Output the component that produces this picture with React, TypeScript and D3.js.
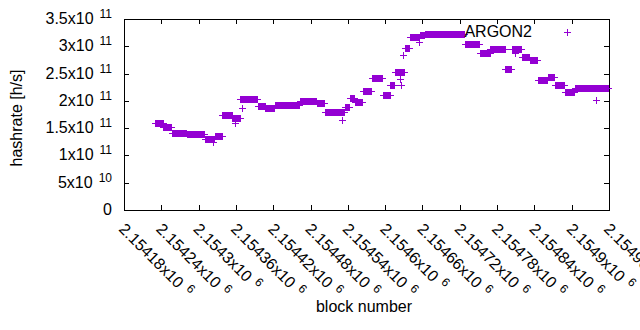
import React from "react";
import * as d3 from "d3";

// Runs of blocks with a (read-off) constant hashrate estimate
const segStart = [2154230, 2154243, 2154257, 2154281, 2154310, 2154326, 2154338, 2154354, 2154367, 2154395, 2154407, 2154423, 2154447, 2154463, 2154490, 2154503, 2154535, 2154543, 2154551, 2154564, 2154579, 2154596, 2154608, 2154616, 2154632, 2154640, 2154656, 2154664, 2154728, 2154752, 2154769, 2154793, 2154804, 2154820, 2154833, 2154846, 2154862, 2154873, 2154889, 2154905];
const segEnd = [2154242, 2154256, 2154280, 2154309, 2154325, 2154337, 2154353, 2154366, 2154394, 2154406, 2154422, 2154446, 2154462, 2154489, 2154502, 2154534, 2154542, 2154550, 2154563, 2154578, 2154595, 2154607, 2154615, 2154631, 2154639, 2154655, 2154663, 2154727, 2154751, 2154768, 2154792, 2154803, 2154819, 2154832, 2154845, 2154861, 2154872, 2154888, 2154904, 2154958];
const segValue = [1.59e11, 1.52e11, 1.42e11, 1.385e11, 1.3e11, 1.35e11, 1.74e11, 1.68e11, 2.03e11, 1.91e11, 1.87e11, 1.93e11, 1.92e11, 1.99e11, 1.96e11, 1.79e11, 1.88e11, 2.06e11, 1.97e11, 2.18e11, 2.41e11, 2.1e11, 2.29e11, 2.52e11, 2.96e11, 3.17e11, 3.2e11, 3.23e11, 3.04e11, 2.88e11, 2.95e11, 2.59e11, 2.95e11, 2.8e11, 2.75e11, 2.39e11, 2.43e11, 2.29e11, 2.17e11, 2.24e11];

// Isolated points
const outBlock = [2154323, 2154358, 2154370, 2154530, 2154624, 2154625, 2154629, 2154654, 2154809, 2154939];
const outValue = [1.25e11, 1.59e11, 1.86e11, 1.65e11, 2.4e11, 2.29e11, 2.84e11, 3.08e11, 2.87e11, 2.01e11];

const xTicks = [2154180, 2154240, 2154300, 2154360, 2154420, 2154480, 2154540, 2154600, 2154660, 2154720, 2154780, 2154840, 2154900, 2154960];
const yTicks = [0, 5e10, 1e11, 1.5e11, 2e11, 2.5e11, 3e11, 3.5e11];

const COLOR = "#9400d3";
const FONT = "'Liberation Sans', Arial, sans-serif";
const FS = 16;
const SUP = 12;

const W = 640, H = 330;
const L = 124, R = 609, T = 19, B = 210;

function splitSci(v: number): [string, string] {
  if (v === 0) return ["0", ""];
  const e = Math.floor(Math.log10(v) + 1e-9);
  const m = parseFloat((v / Math.pow(10, e)).toFixed(6));
  return [m + "x10", String(e)];
}

const plus = "M-3.5,0H3.5M0,-3.5V3.5";

export default function App() {
  const x = d3.scaleLinear().domain([2154180, 2154960]).range([L, R]);
  const y = d3.scaleLinear().domain([0, 3.5e11]).range([B, T]);

  const pts: [number, number][] = [];
  segStart.forEach((s, i) => {
    d3.range(s, segEnd[i] + 1).forEach((b) => pts.push([b, segValue[i]]));
  });
  outBlock.forEach((b, i) => pts.push([b, outValue[i]]));

  const snap = (v: number) => Math.round(v) + 0.5;

  return (
    <svg width={W} height={H} style={{ position: "absolute", left: 0, top: 0, background: "#fff" }} fontFamily={FONT}>
      <rect x={0} y={0} width={W} height={H} fill="#fff" />
      {/* ticks */}
      <g stroke="#000" strokeWidth={1} shapeRendering="crispEdges">
        {yTicks.slice(1, -1).map((t) => (
          <g key={"yt" + t}>
            <line x1={L} x2={L + 5} y1={snap(y(t))} y2={snap(y(t))} />
            <line x1={R} x2={R - 5} y1={snap(y(t))} y2={snap(y(t))} />
          </g>
        ))}
        {xTicks.slice(1, -1).map((t) => (
          <g key={"xt" + t}>
            <line x1={snap(x(t))} x2={snap(x(t))} y1={B} y2={B - 5} />
            <line x1={snap(x(t))} x2={snap(x(t))} y1={T} y2={T + 5} />
          </g>
        ))}
        <rect x={L + 0.5} y={T + 0.5} width={R - L} height={B - T} fill="none" />
      </g>
      {/* y tick labels */}
      {yTicks.map((t) => {
        const [m, e] = splitSci(t);
        return (
          <text key={"yl" + t} x={112} y={y(t) + 5} textAnchor="end" fontSize={FS} fill="#000">
            {m}
            {e && (
              <tspan dx={6} dy={-6} fontSize={SUP}>
                {e}
              </tspan>
            )}
          </text>
        );
      })}
      {/* x tick labels */}
      {xTicks.map((t) => {
        const [m, e] = splitSci(t);
        return (
          <text key={"xl" + t} transform={`translate(${x(t) - 6},230) rotate(45)`} fontSize={FS} fill="#000">
            {m}
            <tspan dx={6} dy={-6} fontSize={SUP}>
              {e}
            </tspan>
          </text>
        );
      })}
      {/* axis titles */}
      <text transform="translate(22,118) rotate(-90)" textAnchor="middle" fontSize={FS} fill="#000">
        hashrate [h/s]
      </text>
      <text x={364} y={312} textAnchor="middle" fontSize={FS} fill="#000">
        block number
      </text>
      {/* data */}
      <g stroke={COLOR} strokeWidth={1} fill="none" shapeRendering="crispEdges">
        {pts.map((p, i) => (
          <path key={i} transform={`translate(${snap(x(p[0]))},${snap(y(p[1]))})`} d={plus} />
        ))}
      </g>
      {/* legend */}
      <text x={532} y={37} textAnchor="end" fontSize={FS} fill="#000">
        ARGON2
      </text>
      <path transform="translate(567.5,32.5)" d={plus} stroke={COLOR} strokeWidth={1} fill="none" shapeRendering="crispEdges" />
    </svg>
  );
}
